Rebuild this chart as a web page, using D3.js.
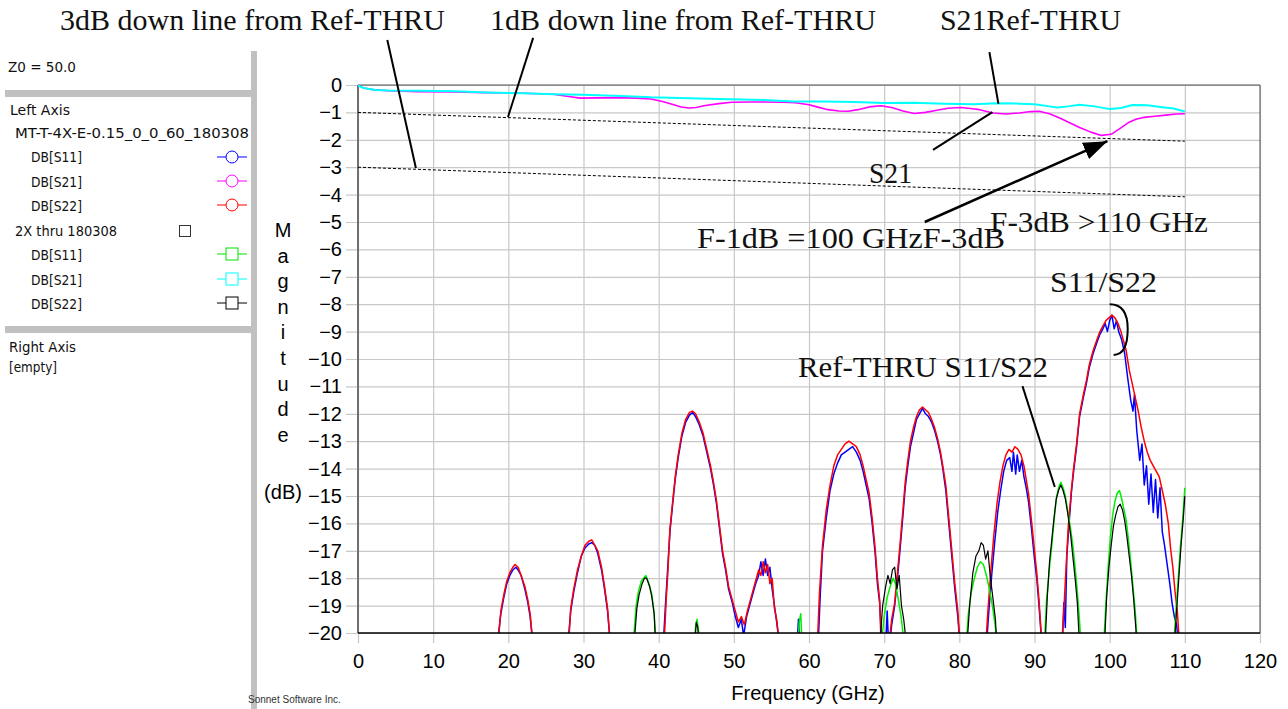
<!DOCTYPE html>
<html>
<head>
<meta charset="utf-8">
<script src="https://cdn.jsdelivr.net/npm/d3@7"></script>
<style>
  body { margin: 0; background: #fff; }
  svg { display: block; }
</style>
</head>
<body>
<div id="chart"></div>
<script>
// axis ticks
const freqTicks = [0, 10, 20, 30, 40, 50, 60, 70, 80, 90, 100, 110, 120];
const dbTicks = [0, -1, -2, -3, -4, -5, -6, -7, -8, -9, -10, -11, -12, -13, -14, -15, -16, -17, -18, -19, -20];

// DUT: MT-T-4X-E-0.15_0_0_60_180308  (each series = list of lobes of [GHz, dB])
const dutS11 = [
  [[18.5,-20.5],[19.0,-19.3],[19.4,-18.7],[19.8,-18.2],[20.2,-17.9],[20.6,-17.7],[21.0,-17.6],[21.3,-17.7],[21.7,-17.9],[22.2,-18.4],[22.6,-18.9],[22.9,-19.4],[23.3,-20.5]],
  [[27.9,-20.5],[28.3,-19.2],[28.7,-18.5],[29.2,-17.8],[29.7,-17.2],[30.2,-16.9],[30.7,-16.75],[31.1,-16.7],[31.5,-16.8],[31.9,-17.1],[32.4,-17.7],[32.8,-18.4],[33.2,-19.2],[33.6,-20.5]],
  [[40.6,-20.5],[40.9,-19.0],[41.1,-18.1],[41.5,-16.3],[41.9,-15.2],[42.2,-14.4],[42.6,-13.6],[43.1,-12.8],[43.6,-12.3],[44.1,-12.05],[44.5,-11.95],[44.9,-12.1],[45.4,-12.4],[45.9,-12.8],[46.4,-13.4],[46.9,-14.0],[47.3,-14.6],[47.7,-15.3],[48.1,-16.2],[48.5,-17.1],[48.9,-17.7],[49.3,-18.4],[49.8,-18.9],[50.2,-19.4],[50.6,-19.8],[51.0,-19.5],[51.3,-20.1],[51.7,-19.4],[52.1,-19.0],[52.5,-18.6],[52.9,-18.2],[53.3,-17.9],[53.6,-17.4],[53.9,-17.9],[54.2,-17.3],[54.5,-17.9],[54.8,-17.6],[55.1,-18.4],[55.4,-19.0],[55.7,-19.6],[56.1,-20.5]],
  [[58.4,-20.5],[58.6,-19.5],[58.8,-20.5]],
  [[61.2,-20.5],[61.5,-18.6],[61.8,-17.0],[62.3,-15.8],[62.8,-14.8],[63.3,-14.2],[63.8,-13.8],[64.3,-13.5],[64.8,-13.4],[65.3,-13.3],[65.8,-13.2],[66.3,-13.4],[66.8,-13.7],[67.2,-14.1],[67.6,-14.6],[68.0,-15.1],[68.4,-16.0],[68.8,-17.1],[69.1,-18.2],[69.4,-18.9],[69.7,-20.5]],
  [[70.2,-20.5],[70.4,-19.2],[70.6,-20.5]],
  [[70.7,-20.5],[71.0,-19.7],[71.4,-19.0],[71.8,-17.9],[72.1,-17.0],[72.5,-15.7],[72.8,-14.7],[73.1,-14.0],[73.5,-13.2],[73.9,-12.7],[74.3,-12.2],[74.7,-12.0],[75.1,-11.8],[75.5,-12.0],[75.9,-12.1],[76.3,-12.3],[76.7,-12.6],[77.1,-13.0],[77.5,-13.5],[77.8,-14.0],[78.2,-14.8],[78.5,-15.7],[78.8,-16.6],[79.1,-17.5],[79.4,-18.4],[79.8,-19.4],[80.1,-20.5]],
  [[83.6,-20.5],[83.9,-19.3],[84.3,-17.9],[84.7,-16.7],[85.1,-15.6],[85.5,-14.8],[85.9,-14.1],[86.3,-13.7],[86.7,-13.6],[87.0,-14.1],[87.2,-13.4],[87.5,-14.2],[87.7,-13.5],[88.0,-14.1],[88.3,-13.7],[88.6,-14.3],[88.9,-14.7],[89.2,-15.2],[89.6,-16.2],[90.0,-17.3],[90.3,-18.0],[90.6,-19.0],[91.0,-20.5]],
  [[93.7,-20.5],[93.9,-18.9],[94.1,-19.8],[94.3,-17.2],[94.6,-16.0],[94.9,-14.9],[95.2,-14.1],[95.6,-13.2],[96.0,-12.1],[96.5,-11.4],[96.9,-10.9],[97.3,-10.3],[97.8,-9.8],[98.3,-9.4],[98.7,-9.1],[99.1,-8.9],[99.4,-8.7],[99.7,-9.0],[100.0,-8.6],[100.3,-8.4],[100.6,-8.9],[100.9,-8.6],[101.2,-9.0],[101.6,-9.3],[102.0,-9.8],[102.4,-10.7],[102.8,-11.5],[103.1,-11.9],[103.3,-11.3],[103.6,-12.6],[104.0,-13.7],[104.3,-13.1],[104.6,-14.6],[104.9,-13.9],[105.2,-15.3],[105.5,-14.2],[105.8,-15.6],[106.1,-14.4],[106.4,-15.8],[106.7,-14.7],[107.0,-16.3],[107.3,-16.8],[107.6,-17.4],[108.0,-18.2],[108.3,-18.9],[108.6,-19.4],[108.9,-19.7],[109.2,-20.5]]
];
const dutS21 = [
  [[0,0],[0.5,-0.08],[1,-0.12],[2,-0.17],[4,-0.21],[8,-0.24],[13,-0.25],[17,-0.28],[22,-0.3],[26,-0.34],[28,-0.42],[29.6,-0.48],[32,-0.47],[34.8,-0.46],[37,-0.48],[39,-0.51],[40.5,-0.6],[41.8,-0.7],[43,-0.8],[44,-0.84],[45,-0.82],[46,-0.76],[48,-0.68],[49.7,-0.63],[52,-0.62],[54,-0.62],[56.6,-0.63],[58.2,-0.65],[60,-0.72],[60.8,-0.78],[62.5,-0.9],[64,-0.95],[65.2,-0.96],[66.5,-0.9],[68,-0.8],[69.6,-0.76],[71,-0.82],[72.5,-0.95],[74,-1.04],[75.5,-1.0],[77,-0.92],[78.5,-0.85],[80.2,-0.82],[81.5,-0.86],[82.7,-0.9],[84.5,-1.02],[86.2,-1.06],[88,-1.02],[89.5,-0.97],[90.6,-0.96],[92,-1.05],[93.5,-1.22],[94.6,-1.37],[96,-1.55],[97.5,-1.72],[98.9,-1.84],[100.2,-1.8],[101.3,-1.6],[102.5,-1.37],[103.5,-1.25],[104.6,-1.18],[106,-1.14],[107.5,-1.1],[108.8,-1.06],[110,-1.05]]
];
const dutS22 = [
  [[18.6,-20.5],[19.0,-19.2],[19.4,-18.6],[19.8,-18.1],[20.2,-17.8],[20.6,-17.6],[20.9,-17.5],[21.3,-17.6],[21.7,-17.9],[22.2,-18.3],[22.6,-18.8],[22.9,-19.3],[23.3,-20.5]],
  [[28.0,-20.5],[28.3,-19.1],[28.7,-18.4],[29.2,-17.7],[29.7,-17.2],[30.2,-16.8],[30.7,-16.65],[31.1,-16.6],[31.5,-16.8],[31.9,-17.0],[32.4,-17.6],[32.8,-18.3],[33.2,-19.1],[33.6,-20.5]],
  [[40.7,-20.5],[41.0,-18.8],[41.2,-17.9],[41.5,-16.2],[41.9,-15.1],[42.2,-14.3],[42.6,-13.5],[43.1,-12.7],[43.6,-12.2],[44.1,-11.95],[44.5,-11.9],[44.9,-12.0],[45.4,-12.3],[45.9,-12.7],[46.4,-13.3],[46.9,-13.9],[47.3,-14.5],[47.7,-15.2],[48.1,-16.1],[48.5,-17.0],[48.9,-17.6],[49.3,-18.3],[49.8,-18.8],[50.2,-19.2],[50.6,-19.6],[51.0,-19.4],[51.4,-19.7],[51.8,-19.2],[52.1,-18.9],[52.5,-18.5],[52.9,-18.1],[53.3,-17.7],[53.6,-17.9],[53.9,-17.4],[54.2,-17.8],[54.5,-17.5],[54.8,-18.2],[55.1,-18.0],[55.4,-19.1],[55.7,-19.5],[56.1,-20.5]],
  [[61.1,-20.5],[61.4,-18.5],[61.8,-16.8],[62.3,-15.5],[62.8,-14.6],[63.3,-13.9],[63.8,-13.5],[64.3,-13.3],[64.8,-13.1],[65.3,-13.0],[65.8,-13.1],[66.3,-13.2],[66.8,-13.5],[67.2,-13.9],[67.6,-14.4],[68.0,-14.9],[68.4,-15.8],[68.8,-16.9],[69.1,-18.0],[69.4,-18.8],[69.6,-20.5]],
  [[70.6,-20.5],[71.0,-19.5],[71.4,-18.9],[71.8,-17.7],[72.1,-16.8],[72.5,-15.5],[72.8,-14.5],[73.1,-13.8],[73.5,-13.0],[73.9,-12.5],[74.3,-12.1],[74.7,-11.85],[75.1,-11.75],[75.5,-11.85],[75.9,-11.95],[76.3,-12.2],[76.7,-12.5],[77.1,-12.9],[77.5,-13.4],[77.8,-13.9],[78.2,-14.6],[78.5,-15.5],[78.8,-16.4],[79.1,-17.3],[79.4,-18.2],[79.8,-19.2],[80.1,-20.5]],
  [[83.5,-20.5],[83.8,-19.2],[84.2,-17.7],[84.6,-16.4],[85.0,-15.3],[85.4,-14.5],[85.8,-13.9],[86.2,-13.5],[86.6,-13.3],[87.0,-13.4],[87.4,-13.2],[87.8,-13.3],[88.2,-13.5],[88.6,-13.9],[88.9,-14.4],[89.2,-14.9],[89.6,-15.9],[90.0,-17.0],[90.3,-17.8],[90.6,-18.8],[91.0,-20.5]],
  [[93.6,-20.5],[93.9,-19.2],[94.2,-17.6],[94.5,-16.1],[94.9,-14.8],[95.2,-14.0],[95.6,-13.1],[96.0,-12.0],[96.5,-11.3],[96.9,-10.8],[97.3,-10.2],[97.8,-9.7],[98.3,-9.3],[98.7,-9.0],[99.1,-8.8],[99.5,-8.6],[99.9,-8.5],[100.3,-8.4],[100.7,-8.5],[101.1,-8.7],[101.5,-9.0],[101.9,-9.4],[102.2,-9.7],[102.6,-10.4],[103.0,-10.9],[103.4,-11.4],[103.8,-11.9],[104.2,-12.5],[104.6,-13.0],[105.0,-13.4],[105.4,-13.7],[105.8,-13.9],[106.2,-14.1],[106.6,-14.3],[107.0,-14.8],[107.4,-15.3],[107.8,-16.0],[108.1,-16.9],[108.4,-17.6],[108.7,-18.5],[109.0,-19.2],[109.3,-20.5]]
];

// Ref: 2X thru 180308
const refS11 = [
  [[36.6,-20.5],[37.0,-19.0],[37.3,-18.5],[37.7,-18.1],[38.0,-18.0],[38.3,-17.9],[38.7,-18.2],[39.1,-18.6],[39.4,-19.3],[39.7,-20.5]],
  [[44.7,-20.5],[44.9,-19.8],[45.1,-19.5],[45.3,-19.9],[45.5,-20.5]],
  [[58.5,-20.5],[58.7,-19.6],[58.9,-19.3],[59.1,-20.5]],
  [[69.6,-20.5],[70.0,-19.4],[70.4,-18.7],[70.8,-18.3],[71.2,-18.0],[71.5,-18.2],[71.9,-18.8],[72.3,-19.5],[72.7,-20.5]],
  [[80.9,-20.5],[81.2,-19.3],[81.6,-18.5],[82.0,-18.0],[82.4,-17.6],[82.8,-17.4],[83.2,-17.5],[83.6,-17.9],[84.0,-18.4],[84.4,-19.0],[84.8,-19.8],[85.1,-20.5]],
  [[91.3,-20.5],[91.6,-18.8],[92.0,-17.6],[92.3,-16.8],[92.6,-15.9],[92.9,-15.1],[93.2,-14.7],[93.5,-14.5],[93.8,-14.7],[94.1,-15.0],[94.4,-15.5],[94.8,-16.2],[95.1,-16.8],[95.4,-17.6],[95.7,-18.5],[96.0,-19.6],[96.2,-20.5]],
  [[99.2,-20.5],[99.5,-18.9],[99.8,-17.6],[100.1,-16.5],[100.4,-15.7],[100.7,-15.2],[101.0,-14.9],[101.3,-14.8],[101.6,-15.1],[101.9,-15.5],[102.2,-15.9],[102.5,-16.6],[102.8,-17.4],[103.1,-18.3],[103.4,-19.2],[103.7,-20.5]],
  [[108.5,-20.5],[108.8,-19.3],[109.1,-18.1],[109.4,-16.9],[109.7,-15.9],[110.0,-14.7]]
];
const refS21 = [
  [[0,0],[0.3,-0.06],[0.7,-0.1],[1.0,-0.12],[1.5,-0.15],[2.4,-0.18],[4,-0.2],[8,-0.21],[13,-0.23],[17,-0.27],[22,-0.3],[26,-0.34],[30,-0.36],[35,-0.4],[39,-0.45],[44,-0.48],[48,-0.51],[54,-0.55],[58,-0.6],[62,-0.6],[66,-0.62],[70,-0.66],[74,-0.65],[78,-0.68],[82,-0.7],[85,-0.67],[88,-0.68],[90,-0.7],[92,-0.78],[93,-0.82],[94.5,-0.78],[96,-0.72],[98,-0.78],[100,-0.88],[101.5,-0.84],[103,-0.73],[105,-0.74],[107,-0.81],[108.5,-0.86],[110,-0.97]]
];
const refS22 = [
  [[36.7,-20.5],[37.1,-19.1],[37.4,-18.6],[37.8,-18.2],[38.1,-18.0],[38.4,-18.0],[38.8,-18.3],[39.1,-18.7],[39.4,-19.3],[39.6,-20.5]],
  [[44.8,-20.5],[45.0,-19.6],[45.2,-19.8],[45.4,-20.5]],
  [[69.4,-20.5],[69.8,-19.0],[70.2,-18.3],[70.5,-17.9],[70.8,-18.2],[71.1,-17.7],[71.4,-17.6],[71.7,-18.4],[72.0,-17.9],[72.3,-19.0],[72.6,-19.5],[73.0,-20.5]],
  [[81.0,-20.5],[81.4,-18.9],[81.8,-17.8],[82.2,-17.2],[82.6,-17.0],[82.9,-16.7],[83.2,-16.8],[83.5,-17.3],[83.8,-17.0],[84.1,-17.9],[84.5,-18.8],[84.8,-19.5],[85.0,-20.5]],
  [[91.4,-20.5],[91.7,-18.7],[92.0,-17.4],[92.3,-16.6],[92.6,-15.8],[92.9,-15.1],[93.2,-14.8],[93.5,-14.6],[93.8,-14.8],[94.1,-15.1],[94.4,-15.6],[94.8,-16.4],[95.1,-17.2],[95.4,-18.0],[95.7,-18.9],[96.0,-20.5]],
  [[99.3,-20.5],[99.6,-18.7],[99.9,-17.6],[100.2,-16.8],[100.5,-16.1],[100.8,-15.7],[101.1,-15.4],[101.4,-15.3],[101.7,-15.5],[102.0,-15.9],[102.3,-16.5],[102.6,-17.2],[102.9,-17.9],[103.2,-18.8],[103.5,-19.9],[103.6,-20.5]],
  [[108.6,-20.5],[108.9,-19.2],[109.2,-18.0],[109.5,-16.8],[109.8,-15.8],[110.0,-15.0]]
];

// dotted reference lines (1dB / 3dB down from Ref-THRU)
const down1dB = [[0,-1],[110,-2.05]];
const down3dB = [[0,-3],[110,-4.08]];

const W = 1288, H = 709;
const svg = d3.select("#chart").append("svg")
  .attr("width", W).attr("height", H)
  .style("font-family", "'Liberation Sans', Arial, sans-serif");

const x = d3.scaleLinear().domain([0, 120]).range([358, 1260]);
const y = d3.scaleLinear().domain([0, -20]).range([85, 633]);

// ---- left panel ----
const panel = svg.append("g").style("font-family", "'DejaVu Sans', sans-serif").style("font-size", "14px");
panel.append("rect").attr("x", 251).attr("y", 51).attr("width", 6).attr("height", H - 51).attr("fill", "#c0c0c0");
panel.append("rect").attr("x", 5).attr("y", 90).attr("width", 246).attr("height", 7).attr("fill", "#c0c0c0");
panel.append("rect").attr("x", 5).attr("y", 326).attr("width", 246).attr("height", 7).attr("fill", "#c0c0c0");

// [text, x, baseline, forced width or 0]
const panelText = [
  ["Z0 = 50.0", 8, 72, 68],
  ["Left Axis", 10, 115, 60],
  ["MT-T-4X-E-0.15_0_0_60_180308", 15, 138, 234],
  ["DB[S11]", 31, 162, 51],
  ["DB[S21]", 31, 187, 51],
  ["DB[S22]", 31, 211, 51],
  ["2X thru 180308", 15, 236, 102],
  ["DB[S11]", 31, 260, 51],
  ["DB[S21]", 31, 285, 51],
  ["DB[S22]", 31, 309, 51],
  ["Right Axis", 9, 352, 67],
  ["[empty]", 9, 372, 48]
];
panel.selectAll("text.pt").data(panelText).enter().append("text")
  .attr("class", "pt")
  .attr("x", d => d[1]).attr("y", d => d[2])
  .attr("textLength", d => d[3]).attr("lengthAdjust", "spacingAndGlyphs")
  .attr("fill", "#111")
  .text(d => d[0]);

const legendKeys = [
  { color: "#0000ff", shape: "circle", yc: 157 },
  { color: "#ff00ff", shape: "circle", yc: 181 },
  { color: "#ff0000", shape: "circle", yc: 205 },
  { color: "#00e000", shape: "square", yc: 254 },
  { color: "#00ffff", shape: "square", yc: 279 },
  { color: "#000000", shape: "square", yc: 303 }
];
legendKeys.forEach(k => {
  panel.append("line").attr("x1", 217).attr("x2", 247).attr("y1", k.yc).attr("y2", k.yc)
    .attr("stroke", k.color).attr("stroke-width", 1);
  if (k.shape === "circle") {
    panel.append("circle").attr("cx", 232).attr("cy", k.yc).attr("r", 6)
      .attr("fill", "#fff").attr("stroke", k.color).attr("stroke-width", 1);
  } else {
    panel.append("rect").attr("x", 226).attr("y", k.yc - 6).attr("width", 12).attr("height", 12)
      .attr("fill", "#fff").attr("stroke", k.color).attr("stroke-width", 1);
  }
});
panel.append("rect").attr("x", 179.5).attr("y", 225.5).attr("width", 11).attr("height", 11)
  .attr("fill", "#fff").attr("stroke", "#333");

// ---- axes + grid ----
const gy = svg.append("g").attr("transform", "translate(346,0)")
  .call(d3.axisLeft(y).tickValues(dbTicks).tickSize(-(1260 - 346)).tickPadding(4));
const gx = svg.append("g").attr("transform", "translate(0,643)")
  .call(d3.axisBottom(x).tickValues(freqTicks).tickSize(-(643 - 85)).tickPadding(11));
[gx, gy].forEach(g => {
  g.select(".domain").remove();
  g.selectAll(".tick line").attr("stroke", "#c8c8c8").attr("stroke-width", 1.2);
  g.selectAll(".tick text").attr("fill", "#000").style("font-size", "20px")
    .style("font-family", "'Liberation Sans', Arial, sans-serif");
});

// frame
const frame = svg.append("g");
frame.append("line").attr("x1", x(0)).attr("x2", x(120)).attr("y1", y(0)).attr("y2", y(0)).attr("stroke", "#505050");
frame.append("line").attr("x1", x(120)).attr("x2", x(120)).attr("y1", y(0)).attr("y2", y(-20)).attr("stroke", "#505050");
frame.append("line").attr("x1", x(0)).attr("x2", x(0)).attr("y1", y(0)).attr("y2", y(-20)).attr("stroke", "#707070").attr("stroke-width", 2);

// axis titles
const magLetters = ["M", "a", "g", "n", "i", "t", "u", "d", "e"];
svg.append("g").selectAll("text").data(magLetters).enter().append("text")
  .attr("x", 283).attr("y", (d, i) => 237 + i * 25.6)
  .attr("text-anchor", "middle").style("font-size", "20px").text(d => d);
svg.append("text").attr("x", 283).attr("y", 499).attr("text-anchor", "middle")
  .style("font-size", "20px").text("(dB)");
svg.append("text").attr("x", 808).attr("y", 700).attr("text-anchor", "middle")
  .style("font-size", "20px").text("Frequency (GHz)");
svg.append("text").attr("x", 248).attr("y", 703).style("font-size", "10px").attr("fill", "#333")
  .text("Sonnet Software Inc.");

// ---- curves ----
svg.append("clipPath").attr("id", "plotclip").append("rect")
  .attr("x", x(0)).attr("y", y(0) - 2).attr("width", x(120) - x(0)).attr("height", y(-20) - y(0) + 2);

const line = d3.line().x(d => x(d[0])).y(d => y(d[1]));
const plot = svg.append("g").attr("clip-path", "url(#plotclip)");

const series = [
  { data: dutS11, color: "#0000ff", w: 1.5 },
  { data: dutS21, color: "#ff00ff", w: 1.6 },
  { data: dutS22, color: "#ff0000", w: 1.5 },
  { data: refS11, color: "#00ee00", w: 1.5 },
  { data: refS21, color: "#00ffff", w: 2 },
  { data: refS22, color: "#000000", w: 1.2 }
];
series.forEach(s => {
  plot.append("g").selectAll("path").data(s.data).enter().append("path")
    .attr("d", line).attr("fill", "none")
    .attr("stroke", s.color).attr("stroke-width", s.w).attr("stroke-linejoin", "round");
});

// dotted down lines
[down1dB, down3dB].forEach(d => {
  svg.append("path").attr("d", line(d)).attr("fill", "none")
    .attr("stroke", "#000").attr("stroke-width", 1).attr("stroke-dasharray", "3,2");
});

// bottom axis line
svg.append("line").attr("x1", x(0)).attr("x2", x(120)).attr("y1", y(-20)).attr("y2", y(-20))
  .attr("stroke", "#000").attr("stroke-width", 1.5);

// ---- annotations ----
const ann = svg.append("g").style("font-family", "'Liberation Serif', 'DejaVu Serif', serif").style("font-size", "29px");
const annTexts = [
  ["3dB down line from Ref-THRU", 60, 30, 385],
  ["1dB down line from Ref-THRU", 490, 30, 386],
  ["S21Ref-THRU", 940, 30, 181],
  ["S21", 869, 183, 43],
  ["F-1dB =100 GHzF-3dB", 697, 248, 308],
  ["F-3dB >110 GHz", 990, 232, 218],
  ["S11/S22", 1050, 292, 107],
  ["Ref-THRU S11/S22", 798, 377, 250]
];
ann.selectAll("text").data(annTexts).enter().append("text")
  .attr("x", d => d[1]).attr("y", d => d[2])
  .attr("textLength", d => d[3]).attr("lengthAdjust", "spacingAndGlyphs")
  .attr("fill", "#111").text(d => d[0]);

// leader lines in data units
const leaders = [
  [[3.9, 1.64], [7.7, -3.03]],
  [[23.3, 1.72], [19.95, -1.17]],
  [[84.0, 1.2], [85.2, -0.69]],
  [[76.5, -2.37], [84.4, -0.99]],
  [[88.4, -10.99], [92.7, -14.67]]
];
leaders.forEach(l => {
  svg.append("path").attr("d", line(l)).attr("stroke", "#000").attr("stroke-width", 2).attr("fill", "none");
});

// arrow to the 1dB crossing
const arrow = [[75.4, -5.0], [99.7, -2.05]];
svg.append("defs").append("marker").attr("id", "ah")
  .attr("markerUnits", "userSpaceOnUse").attr("markerWidth", 26).attr("markerHeight", 20)
  .attr("refX", 24).attr("refY", 9).attr("orient", "auto")
  .append("path").attr("d", "M0,0 L24,9 L0,18 Z").attr("fill", "#000");
svg.append("path").attr("d", line(arrow)).attr("stroke", "#000").attr("stroke-width", 2.5)
  .attr("fill", "none").attr("marker-end", "url(#ah)");

// bracket at S11/S22 peak
const bx0 = x(100), bx1 = x(102.4), by0 = y(-8.0), by1 = y(-9.85), bym = y(-8.9);
svg.append("path")
  .attr("d", `M${bx0},${by0} Q${bx1},${by0} ${bx1},${bym} Q${bx1},${by1} ${bx0 + 4},${by1}`)
  .attr("stroke", "#000").attr("stroke-width", 2).attr("fill", "none");
</script>
</body>
</html>
